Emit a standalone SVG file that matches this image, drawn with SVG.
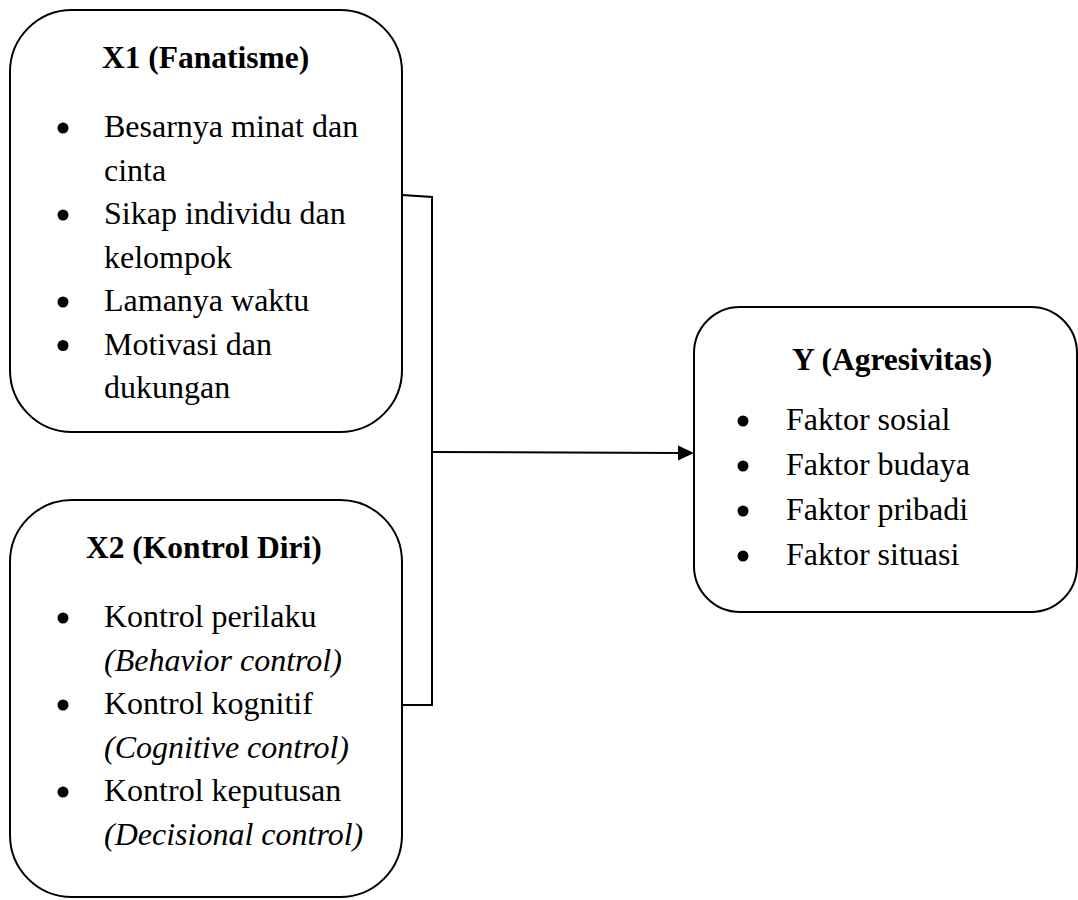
<svg xmlns="http://www.w3.org/2000/svg" width="1078" height="900" viewBox="0 0 1078 900">
<style>
.box{fill:#fff;stroke:#000;stroke-width:2}
.t{font-family:"Liberation Serif","Times New Roman",serif;font-size:32px;fill:#000}
.b{font-weight:bold;font-size:31.5px}
.i{font-style:italic}
.line{fill:none;stroke:#000;stroke-width:2}
</style>
<rect width="1078" height="900" fill="#fff"/>
<g id="connectors">
<polyline class="line" points="402,195 432,197 432,705 402,705"/>
<line class="line" x1="432" y1="452" x2="680" y2="453"/>
<polygon points="694,453 678,445.5 678,460.5" fill="#000"/>
</g>
<g id="x1">
<rect class="box" x="10" y="10" width="392" height="422" rx="62" ry="62"/>
<text class="t b" x="102" y="68">X1 (Fanatisme)</text>
<circle cx="63" cy="128" r="5.5"/>
<circle cx="63" cy="215" r="5.5"/>
<circle cx="63" cy="302" r="5.5"/>
<circle cx="63" cy="345.5" r="5.5"/>
<text class="t" x="104" y="137">Besarnya minat dan</text>
<text class="t" x="104" y="180.5">cinta</text>
<text class="t" x="104" y="224">Sikap individu dan</text>
<text class="t" x="104" y="267.5">kelompok</text>
<text class="t" x="104" y="311">Lamanya waktu</text>
<text class="t" x="104" y="354.5">Motivasi dan</text>
<text class="t" x="104" y="398">dukungan</text>
</g>
<g id="x2">
<rect class="box" x="10" y="500" width="392" height="397" rx="62" ry="62"/>
<text class="t b" x="86" y="558">X2 (Kontrol Diri)</text>
<circle cx="63" cy="618" r="5.5"/>
<circle cx="63" cy="705" r="5.5"/>
<circle cx="63" cy="792" r="5.5"/>
<text class="t" x="104" y="627">Kontrol perilaku</text>
<text class="t i" x="104" y="670.5">(Behavior control)</text>
<text class="t" x="104" y="714">Kontrol kognitif</text>
<text class="t i" x="104" y="757.5">(Cognitive control)</text>
<text class="t" x="104" y="801">Kontrol keputusan</text>
<text class="t i" x="104" y="844.5">(Decisional control)</text>
</g>
<g id="y">
<rect class="box" x="694" y="307" width="383" height="305" rx="46" ry="46"/>
<text class="t b" x="792" y="370">Y (Agresivitas)</text>
<circle cx="743" cy="421" r="5.5"/>
<circle cx="743" cy="466" r="5.5"/>
<circle cx="743" cy="511" r="5.5"/>
<circle cx="743" cy="556" r="5.5"/>
<text class="t" x="786" y="430">Faktor sosial</text>
<text class="t" x="786" y="475">Faktor budaya</text>
<text class="t" x="786" y="520">Faktor pribadi</text>
<text class="t" x="786" y="565">Faktor situasi</text>
</g>
</svg>
